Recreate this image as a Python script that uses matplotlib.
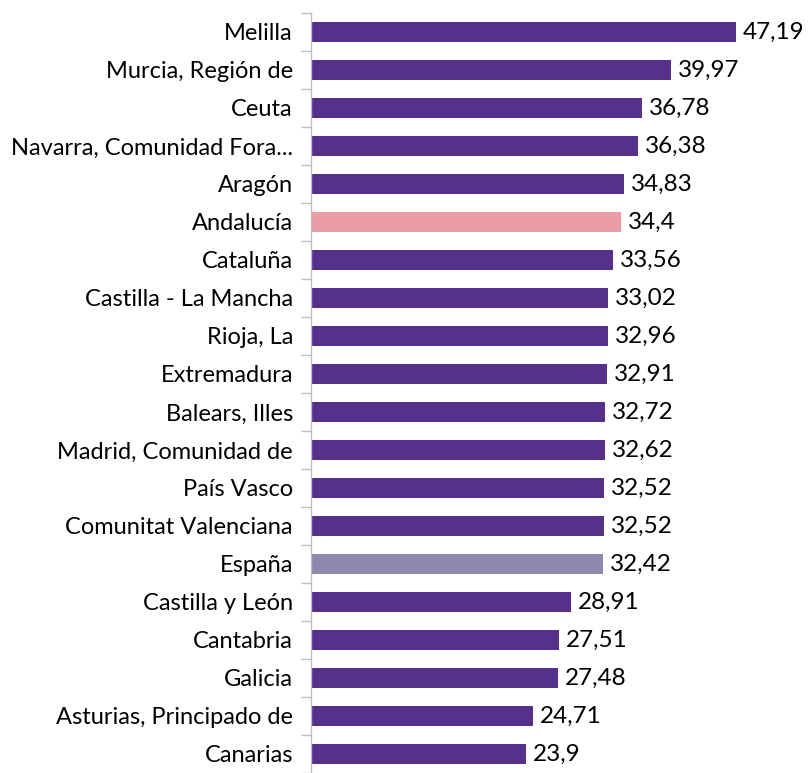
import matplotlib
matplotlib.use("Agg")
import matplotlib.pyplot as plt
import numpy as np

categories = ["Melilla", "Murcia, Región de", "Ceuta", "Navarra, Comunidad Fora...",
              "Aragón", "Andalucía", "Cataluña", "Castilla - La Mancha", "Rioja, La",
              "Extremadura", "Balears, Illes", "Madrid, Comunidad de", "País Vasco",
              "Comunitat Valenciana", "España", "Castilla y León", "Cantabria",
              "Galicia", "Asturias, Principado de", "Canarias"]
values = [47.19, 39.97, 36.78, 36.38, 34.83, 34.4, 33.56, 33.02, 32.96, 32.91,
          32.72, 32.62, 32.52, 32.52, 32.42, 28.91, 27.51, 27.48, 24.71, 23.9]

PURPLE = "#55318C"
PINK = "#EB9CA6"
GREY = "#8E88B1"
colors = [PINK if c == "Andalucía" else GREY if c == "España" else PURPLE for c in categories]

plt.rcParams['font.family'] = ['Lato', 'DejaVu Sans']

fig = plt.figure(figsize=(8.09, 7.73), dpi=100)
ax = fig.add_axes([311/809, 0, 1 - 311/809, 1 - 13/773])

y = np.arange(len(categories))
bars = ax.barh(y, values, height=0.52, color=colors)

ax.set_ylim(19.34, -0.5)
ax.set_xlim(0, 498/9.0)

ax.set_yticks(y)
ax.set_yticklabels(categories, fontsize=17, color="#000000")
ax.tick_params(axis='y', which='major', length=0, pad=13)
ax.set_yticks(np.arange(-0.5, len(categories), 1), minor=True)
ax.tick_params(axis='y', which='minor', length=7, width=1, color="#BFBFBF")
ax.set_xticks([])

for s in ["top", "right", "bottom"]:
    ax.spines[s].set_visible(False)
ax.spines["left"].set_color("#BFBFBF")
ax.spines["left"].set_linewidth(1)

labels = [f"{v:g}".replace(".", ",") for v in values]
ax.bar_label(bars, labels=labels, padding=5, fontsize=17.5, color="#000000")

fig.savefig("out.png", dpi=100)
